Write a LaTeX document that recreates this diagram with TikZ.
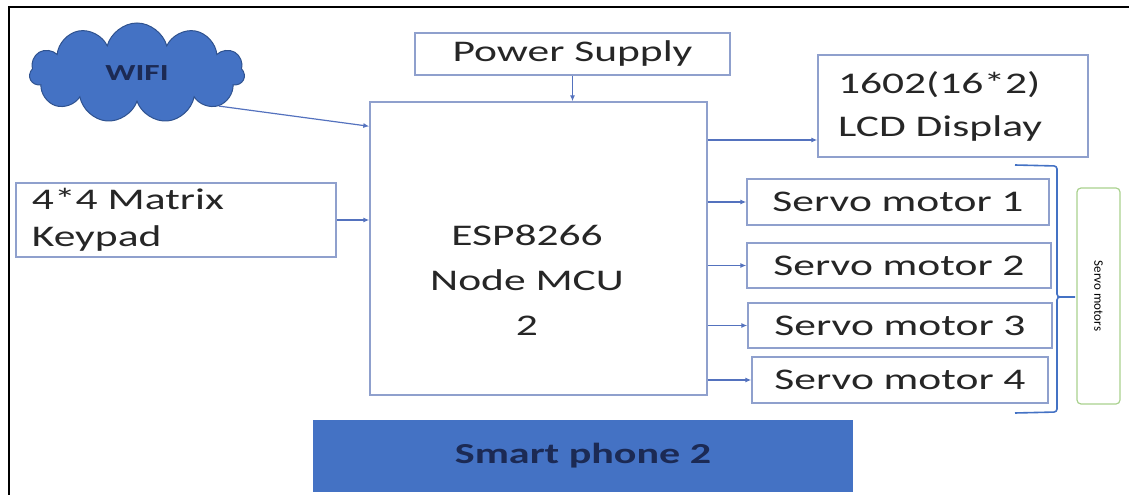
\documentclass[tikz,border=0pt]{standalone}
\usepackage{fontspec}
\setmainfont{Carlito}[FakeStretch=1.45]
\newfontfamily\plainfont{Carlito}
\usetikzlibrary{shapes.symbols,arrows.meta}

\definecolor{boxline}{RGB}{143,160,205}
\definecolor{arrowblue}{RGB}{84,114,190}
\definecolor{msblue}{RGB}{68,114,196}
\definecolor{cloudedge}{RGB}{47,82,143}
\definecolor{navy}{RGB}{28,42,84}
\definecolor{grpgreen}{RGB}{169,209,142}

\newcommand{\boxfont}{\fontsize{30bp}{43bp}\selectfont}

\tikzset{
  blk/.style={draw=boxline, line width=1.4bp, inner sep=0pt, font=\boxfont, text=black!85},
  lblk/.style={blk, align=left, text width=#1},
  link/.style={draw=arrowblue, line width=1.2bp, -{Latex[length=6bp,width=5bp]}}
}

\begin{document}
\begin{tikzpicture}[x=1bp,y=-1bp]
    \useasboundingbox (0,0) rectangle (1129,495);
    \draw[line width=2.2bp] (1129,7) -- (9,7) -- (9,495);

    \node[cloud, cloud puffs=11, cloud ignores aspect, minimum width=215bp, minimum height=100bp,
          fill=msblue, draw=cloudedge, line width=1bp, text=navy,
          font=\bfseries\fontsize{23bp}{23bp}\selectfont] (wifi) at (137,73) {WIFI};

    \node[blk, minimum width=315bp, minimum height=42bp] (ps) at (572.5,54) {Power Supply};
    \node[blk, minimum width=337bp, minimum height=293bp] (mcu) at (538.5,248.5) {};
    \node[align=center, font=\fontsize{30bp}{45bp}\selectfont, text=black!85] (mcutxt) at (527,280) {ESP8266\\Node MCU\\2};

    \node[lblk=230bp, inner xsep=20bp, minimum height=102bp] (lcd) at (953,106) {1602(16*2)\\LCD Display};
    \node[lblk=288bp, inner xsep=16bp, minimum height=74bp, font=\fontsize{30bp}{37bp}\selectfont] (kp) at (176,220) {4*4 Matrix\\Keypad};

    \node[blk, minimum width=302bp, minimum height=46bp] (s1) at (898,202) {Servo motor 1};
    \node[blk, minimum width=304bp, minimum height=45bp] (s2) at (899,265.5) {Servo motor 2};
    \node[blk, minimum width=304bp, minimum height=45bp] (s3) at (900,325.5) {Servo motor 3};
    \node[blk, minimum width=296bp, minimum height=46bp] (s4) at (900,380) {Servo motor 4};

    \node[draw=grpgreen, line width=1.2bp, rounded corners=4bp, rotate=-90,
          minimum width=216bp, minimum height=43bp,
          font=\plainfont\fontsize{13bp}{13bp}\selectfont] (grp) at (1098.5,296) {Servo motors};

    \node[fill=msblue, minimum width=540bp, minimum height=71bp, text=navy,
          font=\bfseries\fontsize{29bp}{29bp}\selectfont] (phone) at (583,456) {Smart phone 2};

    \coordinate (lcdin) at ([yshift=-34bp]lcd.west);
    \coordinate (mcuin) at ([yshift=-25bp]mcu.north west);

    \draw[link] (wifi.-22) -- (mcuin);
    \draw[link] (ps.south) -- (ps.south |- mcu.north);
    \draw[link] (kp.east) -- (mcu.west |- kp.east);
    \draw[link] (mcu.east |- lcdin) -- (lcdin);
    \draw[link] (mcu.east |- s1.west) -- (s1.west);
    \draw[link] (mcu.east |- s2.west) -- (s2.west);
    \draw[link] (mcu.east |- s3.west) -- (s3.west);
    \draw[link] (mcu.east |- s4.west) -- (s4.west);

    \draw[draw=msblue, line width=1.6bp, rounded corners=3bp]
      (1015,165) -- (1057,166) -- (1057,297) -- (1075,297);
    \draw[draw=msblue, line width=1.6bp, rounded corners=3bp]
      (1062,297) -- (1057,297) -- (1057,412) -- (1015,413);
\end{tikzpicture}
\end{document}
